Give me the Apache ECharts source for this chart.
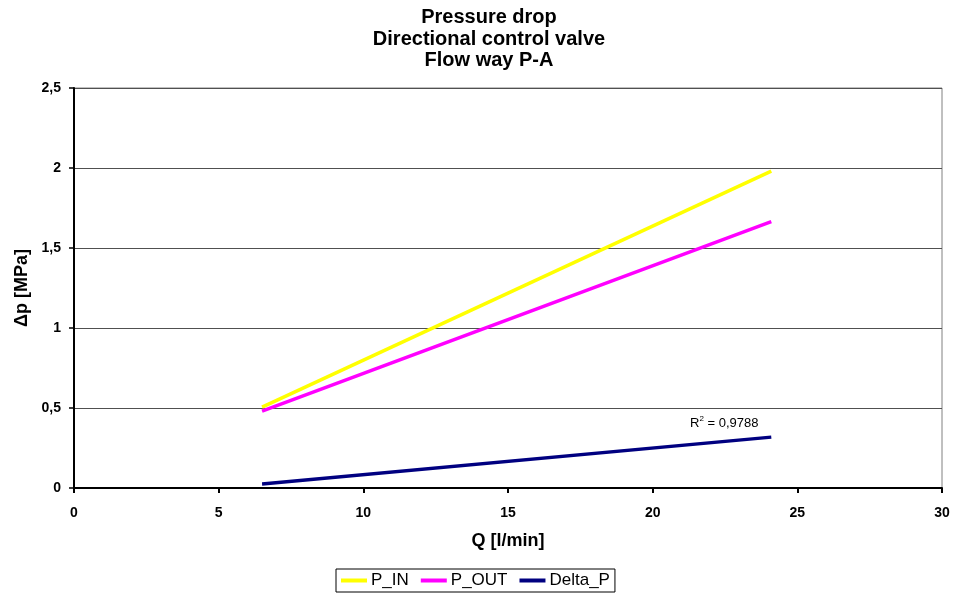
<!DOCTYPE html>
<html><head><meta charset="utf-8">
<script src="https://cdn.jsdelivr.net/npm/echarts@6/dist/echarts.min.js"></script>
<style>html,body{margin:0;padding:0;background:#fff}#c{width:954px;height:598px}</style>
</head><body><div id="c"></div>
<script>
const qIn = [6.5, 24.1];
const pIn = [0.505, 1.98];
const qOut = [6.5, 24.1];
const pOut = [0.48, 1.665];
const qDelta = [6.5, 24.1];
const pDelta = [0.025, 0.318];
const xTicks = [0, 5, 10, 15, 20, 25, 30];
const yTicks = [0, 0.5, 1, 1.5, 2, 2.5];
const r2Text = '0,9788';

const pair = (xs, ys) => xs.map((x, i) => [x, ys[i]]);
const fmt = v => String(v).replace('.', ',');
const chart = echarts.init(document.getElementById('c'));
const F = 'Arial, "Liberation Sans", sans-serif';
chart.setOption({
  animation: false,
  backgroundColor: '#fff',
  title: {
    text: 'Pressure drop\nDirectional control valve\nFlow way P-A',
    left: 484, top: 2, textAlign: 'center',
    textStyle: { fontFamily: F, fontSize: 20, fontWeight: 'bold', color: '#000', lineHeight: 21.5 }
  },
  grid: { left: 74, right: 12, top: 88, bottom: 110, show: true, borderColor: '#808080', borderWidth: 1,
          containLabel: false, outerBoundsMode: 'none' },
  legend: {
    bottom: 6, left: 336, itemGap: 12,
    icon: 'rect', itemWidth: 26, itemHeight: 4,
    borderColor: '#000', borderWidth: 1, padding: [3, 5, 3, 5], borderRadius: 0,
    textStyle: { fontFamily: F, fontSize: 17, color: '#000', padding: [0, 0, 0, -1] },
    data: ['P_IN', 'P_OUT', 'Delta_P']
  },
  xAxis: {
    type: 'value', min: xTicks[0], max: xTicks[xTicks.length - 1], interval: 5,
    name: 'Q [l/min]', nameLocation: 'middle', nameGap: 44,
    nameTextStyle: { fontFamily: F, fontSize: 18, fontWeight: 'bold', color: '#000' },
    axisLine: { lineStyle: { color: '#000', width: 2 } },
    axisTick: { show: true, length: 5, lineStyle: { color: '#000', width: 2 } },
    axisLabel: { fontFamily: F, fontSize: 14, fontWeight: 'bold', color: '#000', margin: 18, formatter: fmt },
    splitLine: { show: false }
  },
  yAxis: {
    type: 'value', min: yTicks[0], max: yTicks[yTicks.length - 1], interval: 0.5,
    name: 'Δp [MPa]', nameLocation: 'middle', nameGap: 42, nameRotate: 90,
    nameTextStyle: { fontFamily: F, fontSize: 18, fontWeight: 'bold', color: '#000' },
    axisLine: { show: true, lineStyle: { color: '#000', width: 2 } },
    axisTick: { show: true, length: 5, lineStyle: { color: '#000', width: 1.5 } },
    axisLabel: { fontFamily: F, fontSize: 14, fontWeight: 'bold', color: '#000', margin: 13, formatter: fmt },
    splitLine: { show: true, lineStyle: { color: '#505050', width: 1 } }
  },
  series: [
    { name: 'P_IN', type: 'line', data: pair(qIn, pIn), showSymbol: false, symbol: 'none',
      lineStyle: { color: '#FFFF00', width: 3.5 }, itemStyle: { color: '#FFFF00' } },
    { name: 'P_OUT', type: 'line', data: pair(qOut, pOut), showSymbol: false, symbol: 'none',
      lineStyle: { color: '#FF00FF', width: 3.5 }, itemStyle: { color: '#FF00FF' } },
    { name: 'Delta_P', type: 'line', data: pair(qDelta, pDelta), showSymbol: false, symbol: 'none',
      lineStyle: { color: '#000080', width: 3.5 }, itemStyle: { color: '#000080' },
      markPoint: {
        symbol: 'circle', symbolSize: 0,
        data: [{ coord: [qDelta[1], pDelta[1]] }],
        label: {
          show: true, position: 'inside', offset: [-47, -14],
          formatter: () => 'R{s|2} = ' + r2Text,
          fontFamily: F, fontSize: 13, color: '#000',
          rich: { s: { fontFamily: F, fontSize: 8, color: '#000', padding: [0, 0, 8, 0] } }
        }
      } }
  ]
});
</script></body></html>
